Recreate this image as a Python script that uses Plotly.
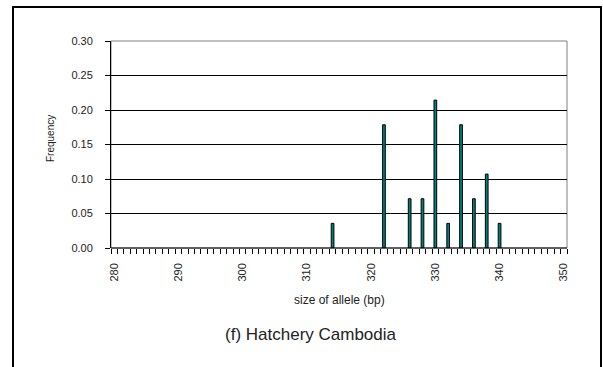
import plotly.graph_objects as go

sizes = [314, 322, 326, 328, 330, 332, 334, 336, 338, 340]
freqs = [0.0357, 0.1786, 0.0714, 0.0714, 0.2143, 0.0357, 0.1786, 0.0714, 0.1071, 0.0357]
x_ticks = [280, 290, 300, 310, 320, 330, 340, 350]
y_ticks = [0.00, 0.05, 0.10, 0.15, 0.20, 0.25, 0.30]

W, H = 603, 367
L, R, T, B = 111, 567, 41, 248
pw, ph = R - L, B - T

def px(x):
    return (x - L) / pw

def py(y):
    return (B - y) / ph

fig = go.Figure()
fig.add_trace(go.Bar(
    x=sizes, y=freqs, width=0.42,
    marker=dict(color="#008080", line=dict(color="black", width=1)),
))

fig.update_layout(
    width=W, height=H,
    margin=dict(l=L, r=W - R, t=T, b=H - B),
    paper_bgcolor="white", plot_bgcolor="white",
    showlegend=False,
    font=dict(family="Liberation Sans, Arial", color="#222222"),
    xaxis=dict(
        range=[279.5, 350.5], tickmode="array", tickvals=x_ticks,
        ticktext=[str(v) for v in x_ticks], tickangle=-90,
        ticks="", showgrid=False, zeroline=False,
        showline=False, tickfont=dict(size=11), ticklabelstandoff=12,
        minor=dict(tickmode="linear", tick0=279.5, dtick=1, ticks="outside",
                   ticklen=5, tickcolor="black", tickwidth=1, showgrid=False),
    ),
    yaxis=dict(
        range=[0, 0.30], tickmode="array", tickvals=y_ticks,
        ticktext=["%.2f" % v for v in y_ticks],
        ticks="outside", ticklen=5, tickcolor="black",
        showgrid=True, gridcolor="black", gridwidth=1,
        zeroline=False, showline=True, linecolor="black", linewidth=1,
        tickfont=dict(size=11), ticklabelstandoff=10,
    ),
    shapes=[
        dict(type="rect", xref="paper", yref="paper", x0=0, x1=1, y0=0, y1=1,
             line=dict(color="#808080", width=1), layer="below"),
        dict(type="line", xref="paper", yref="paper", x0=0, x1=1, y0=0, y1=0,
             line=dict(color="black", width=1)),
        dict(type="rect", xref="paper", yref="paper",
             x0=px(13), x1=px(601), y0=py(7), y1=py(380),
             line=dict(color="black", width=2)),
    ],
    annotations=[
        dict(text="size of allele (bp)", xref="paper", yref="paper",
             x=0.5, y=py(300), showarrow=False, font=dict(size=12),
             xanchor="center", yanchor="middle"),
        dict(text="Frequency", xref="paper", yref="paper",
             x=px(50), y=py(139), showarrow=False, font=dict(size=10),
             textangle=-90, xanchor="center", yanchor="middle"),
        dict(text="(f) Hatchery Cambodia", xref="paper", yref="paper",
             x=px(311), y=py(334), showarrow=False, font=dict(size=17),
             xanchor="center", yanchor="middle"),
    ],
)

fig.write_html("out.html")
